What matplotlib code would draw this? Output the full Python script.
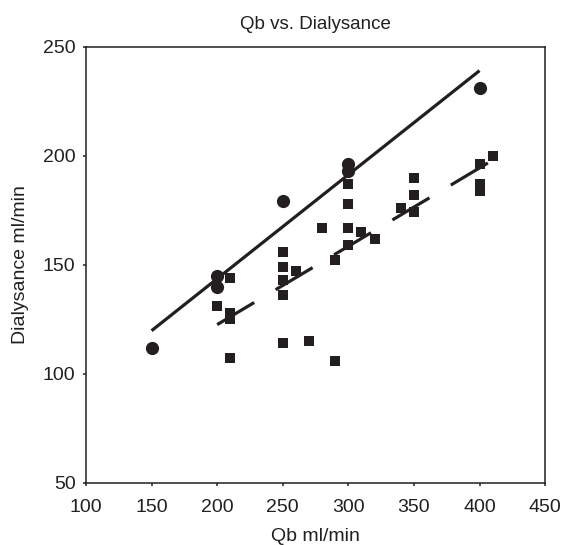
import numpy as np
import matplotlib.pyplot as plt

plt.rcParams['font.family'] = ['Liberation Sans', 'DejaVu Sans']

# circles (first series)
circ_qb = [150, 200, 200, 250, 300, 300, 400]
circ_dial = [112, 145, 140, 179, 196, 193, 231]

# squares (second series)
sq_qb = [200, 210, 210, 210, 210,
         250, 250, 250, 250, 250, 260, 270,
         280, 290, 290, 300, 300, 300, 300,
         310, 320, 340, 350, 350, 350,
         400, 400, 400, 410]
sq_dial = [131, 144, 128, 125, 107,
           156, 149, 143, 136, 114, 147, 115,
           167, 152, 106, 187, 178, 167, 159,
           165, 162, 176, 190, 182, 174,
           196, 187, 184, 200]

ink = '#231f20'

fig = plt.figure(figsize=(5.62, 5.45), dpi=100)
ax = fig.add_axes([0.153, 0.1143, 0.817, 0.80])

ax.plot(circ_qb, circ_dial, 'o', color=ink, ms=9.5, mew=0)
ax.plot(sq_qb, sq_dial, 's', color=ink, ms=6.5, mew=0)

# linear trend lines over each series' range
p1 = np.polyfit(circ_qb, circ_dial, 1)
x1 = np.array([min(circ_qb), max(circ_qb)])
ax.plot(x1, np.polyval(p1, x1), '-', color=ink, lw=2.3, solid_capstyle='butt')

p2 = np.polyfit(sq_qb, sq_dial, 1)
x2 = np.array([min(sq_qb), max(sq_qb)])
ax.plot(x2, np.polyval(p2, x2), color=ink, lw=2.3, linestyle=(0, (13.5, 7.8)),
        dash_capstyle='butt')

ax.set_xlim(100, 450)
ax.set_ylim(50, 250)
ax.set_xticks(range(100, 451, 50))
ax.set_yticks(range(50, 251, 50))

for s in ax.spines.values():
    s.set_linewidth(1.1)
    s.set_color(ink)
ax.tick_params(direction='out', length=2.5, width=1.1, color=ink,
               labelsize=14, labelcolor=ink)
ax.tick_params(axis='x', pad=9)
ax.tick_params(axis='y', pad=5)

ax.set_title('Qb vs. Dialysance', fontsize=13.5, color=ink, pad=13)
ax.set_xlabel('Qb ml/min', fontsize=14, color=ink, labelpad=9)
ax.set_ylabel('Dialysance ml/min', fontsize=14, color=ink, labelpad=10)

fig.savefig('out.png', dpi=100)
